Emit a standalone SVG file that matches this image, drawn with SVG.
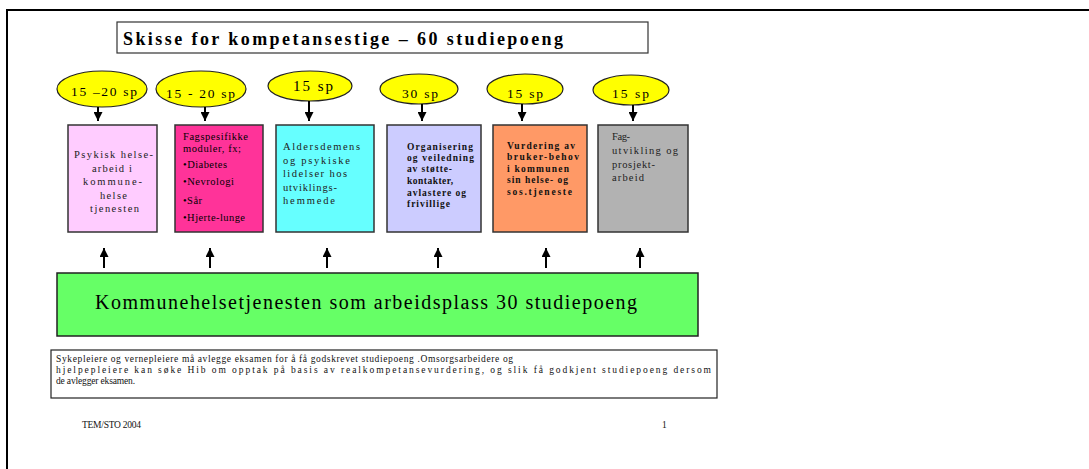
<svg xmlns="http://www.w3.org/2000/svg" width="1089" height="469" viewBox="0 0 1089 469">
<defs>
<marker id="ah" markerUnits="userSpaceOnUse" markerWidth="10" markerHeight="9" refX="9" refY="4.5" orient="auto">
<path d="M0,0 L9,4.5 L0,9 z" fill="#000"/>
</marker>
<style>
.t{font-family:"Liberation Serif","Times New Roman",serif;fill:#000}
.box{stroke:#333;stroke-width:1.5}
.ell{fill:#FFFF00;stroke:#222;stroke-width:1.2}
.con{stroke:#000;stroke-width:2;fill:none;marker-end:url(#ah)}
.bt{font-size:10.5px;fill:#222}
.bb{font-size:9.5px;font-weight:bold;fill:#111}
.sp{font-size:13.5px}
.fn{font-size:9.5px;fill:#111}
</style>
</defs>
<rect x="0" y="0" width="1089" height="469" fill="#fff"/>
<rect x="7" y="10" width="1100" height="480" fill="none" stroke="#000" stroke-width="2"/>

<g id="title">
<rect x="117" y="22" width="531" height="31" fill="#fff" stroke="#333" stroke-width="1.2"/>
<text class="t" x="123" y="45" font-size="18" font-weight="bold" textLength="440" lengthAdjust="spacing">Skisse for kompetansestige – 60 studiepoeng</text>
</g>

<g id="sp1"><ellipse class="ell" cx="102" cy="89" rx="45" ry="18"/><text class="t sp" x="71" y="96" textLength="66" lengthAdjust="spacing">15 –20 sp</text></g>
<g id="sp2"><ellipse class="ell" cx="201" cy="89" rx="45" ry="18"/><text class="t sp" x="166" y="98" textLength="69" lengthAdjust="spacing">15 - 20 sp</text></g>
<g id="sp3"><ellipse class="ell" cx="310" cy="86" rx="42" ry="15"/><text class="t" font-size="15" x="293" y="91" textLength="40" lengthAdjust="spacing">15 sp</text></g>
<g id="sp4"><ellipse class="ell" cx="419" cy="89" rx="39" ry="15"/><text class="t sp" x="402" y="97.5" textLength="36" lengthAdjust="spacing">30 sp</text></g>
<g id="sp5"><ellipse class="ell" cx="525" cy="89" rx="38" ry="15"/><text class="t sp" x="507" y="97.5" textLength="36" lengthAdjust="spacing">15 sp</text></g>
<g id="sp6"><ellipse class="ell" cx="631" cy="90" rx="38" ry="15"/><text class="t sp" x="612" y="97.5" textLength="37" lengthAdjust="spacing">15 sp</text></g>

<g id="box1">
<rect class="box" x="68" y="125" width="89" height="107" fill="#FFCCFF"/>
<g class="t bt" font-size="11" text-anchor="middle">
<text x="113.5" y="158" textLength="79" lengthAdjust="spacing">Psykisk helse-</text>
<text x="112" y="171.5" textLength="40" lengthAdjust="spacing">arbeid i</text>
<text x="112.5" y="185" textLength="59" lengthAdjust="spacing">kommune-</text>
<text x="113.5" y="198.5" textLength="27" lengthAdjust="spacing">helse</text>
<text x="114.5" y="212" textLength="49" lengthAdjust="spacing">tjenesten</text>
</g>
</g>

<g id="box2">
<rect class="box" x="175" y="125" width="88" height="107" fill="#FF3399"/>
<g class="t" font-size="10.5" fill="#222">
<text x="183" y="140" textLength="65" lengthAdjust="spacing">Fagspesifikke</text>
<text x="183" y="152" textLength="58" lengthAdjust="spacing">moduler, fx;</text>
<text x="183" y="168" textLength="44" lengthAdjust="spacing">•Diabetes</text>
<text x="183" y="185" textLength="51" lengthAdjust="spacing">•Nevrologi</text>
<text x="183" y="204" textLength="19" lengthAdjust="spacing">•Sår</text>
<text x="183" y="221" textLength="62" lengthAdjust="spacing">•Hjerte-lunge</text>
</g>
</g>

<g id="box3">
<rect class="box" x="276" y="125" width="98" height="107" fill="#66FFFF"/>
<g class="t bt">
<text x="283" y="150" textLength="77" lengthAdjust="spacing">Aldersdemens</text>
<text x="283" y="164" textLength="67" lengthAdjust="spacing">og psykiske</text>
<text x="283" y="177" textLength="64" lengthAdjust="spacing">lidelser hos</text>
<text x="283" y="191" textLength="54" lengthAdjust="spacing">utviklings-</text>
<text x="283" y="204" textLength="52" lengthAdjust="spacing">hemmede</text>
</g>
</g>

<g id="box4">
<rect class="box" x="387" y="125" width="94" height="107" fill="#CCCCFF"/>
<g class="t bb">
<text x="407" y="150" textLength="66" lengthAdjust="spacing">Organisering</text>
<text x="407" y="161" textLength="67" lengthAdjust="spacing">og veiledning</text>
<text x="407" y="172" textLength="45" lengthAdjust="spacing">av støtte-</text>
<text x="407" y="184" textLength="46" lengthAdjust="spacing">kontakter,</text>
<text x="407" y="196" textLength="59" lengthAdjust="spacing">avlastere og</text>
<text x="407" y="207" textLength="43" lengthAdjust="spacing">frivillige</text>
</g>
</g>

<g id="box5">
<rect class="box" x="493" y="125" width="94" height="107" fill="#FF9966"/>
<g class="t bb" fill="#220000">
<text x="507" y="149" textLength="68" lengthAdjust="spacing">Vurdering av</text>
<text x="507" y="160" textLength="72" lengthAdjust="spacing">bruker-behov</text>
<text x="507" y="172" textLength="62" lengthAdjust="spacing">i kommunen</text>
<text x="507" y="183" textLength="61" lengthAdjust="spacing">sin helse- og</text>
<text x="507" y="195" textLength="65" lengthAdjust="spacing">sos.tjeneste</text>
</g>
</g>

<g id="box6">
<rect class="box" x="598" y="125" width="90" height="107" fill="#B2B2B2"/>
<g class="t bt" fill="#333">
<text x="612" y="140" textLength="18" lengthAdjust="spacing">Fag-</text>
<text x="612" y="154" textLength="66" lengthAdjust="spacing">utvikling og</text>
<text x="612" y="168" textLength="43" lengthAdjust="spacing">prosjekt-</text>
<text x="612" y="181" textLength="32" lengthAdjust="spacing">arbeid</text>
</g>
</g>

<g id="base">
<rect x="57" y="273" width="641" height="63" fill="#66FF66" stroke="#222" stroke-width="1.5"/>
<text class="t" x="95" y="309" font-size="20" textLength="542" lengthAdjust="spacing">Kommunehelsetjenesten som arbeidsplass 30 studiepoeng</text>
</g>

<g id="note">
<rect x="51" y="350" width="666" height="48" fill="#fff" stroke="#222" stroke-width="1.2"/>
<g class="t fn">
<text x="56" y="362" textLength="457" lengthAdjust="spacing">Sykepleiere og vernepleiere må avlegge eksamen  for å få godskrevet studiepoeng .Omsorgsarbeidere og</text>
<text x="56" y="373" textLength="655" lengthAdjust="spacing">hjelpepleiere kan søke Hib om opptak på basis av realkompetansevurdering, og slik få godkjent studiepoeng dersom</text>
<text x="56" y="384" textLength="79" lengthAdjust="spacing">de avlegger eksamen.</text>
</g>
</g>

<g id="footer">
<text class="t fn" x="82" y="428" textLength="59" lengthAdjust="spacing">TEM/STO 2004</text>
<text class="t fn" x="662" y="428">1</text>
</g>

<g id="connectors">
<line class="con" x1="98" y1="107" x2="98" y2="121"/>
<line class="con" x1="205" y1="107" x2="205" y2="121"/>
<line class="con" x1="309" y1="101" x2="309" y2="121"/>
<line class="con" x1="422" y1="104" x2="422" y2="121"/>
<line class="con" x1="522" y1="104" x2="522" y2="121"/>
<line class="con" x1="633" y1="105" x2="633" y2="121"/>
<line class="con" x1="104" y1="268" x2="104" y2="248"/>
<line class="con" x1="210" y1="268" x2="210" y2="248"/>
<line class="con" x1="327" y1="268" x2="327" y2="248"/>
<line class="con" x1="438" y1="268" x2="438" y2="248"/>
<line class="con" x1="546" y1="268" x2="546" y2="248"/>
<line class="con" x1="640" y1="268" x2="640" y2="248"/>
</g>
</svg>
